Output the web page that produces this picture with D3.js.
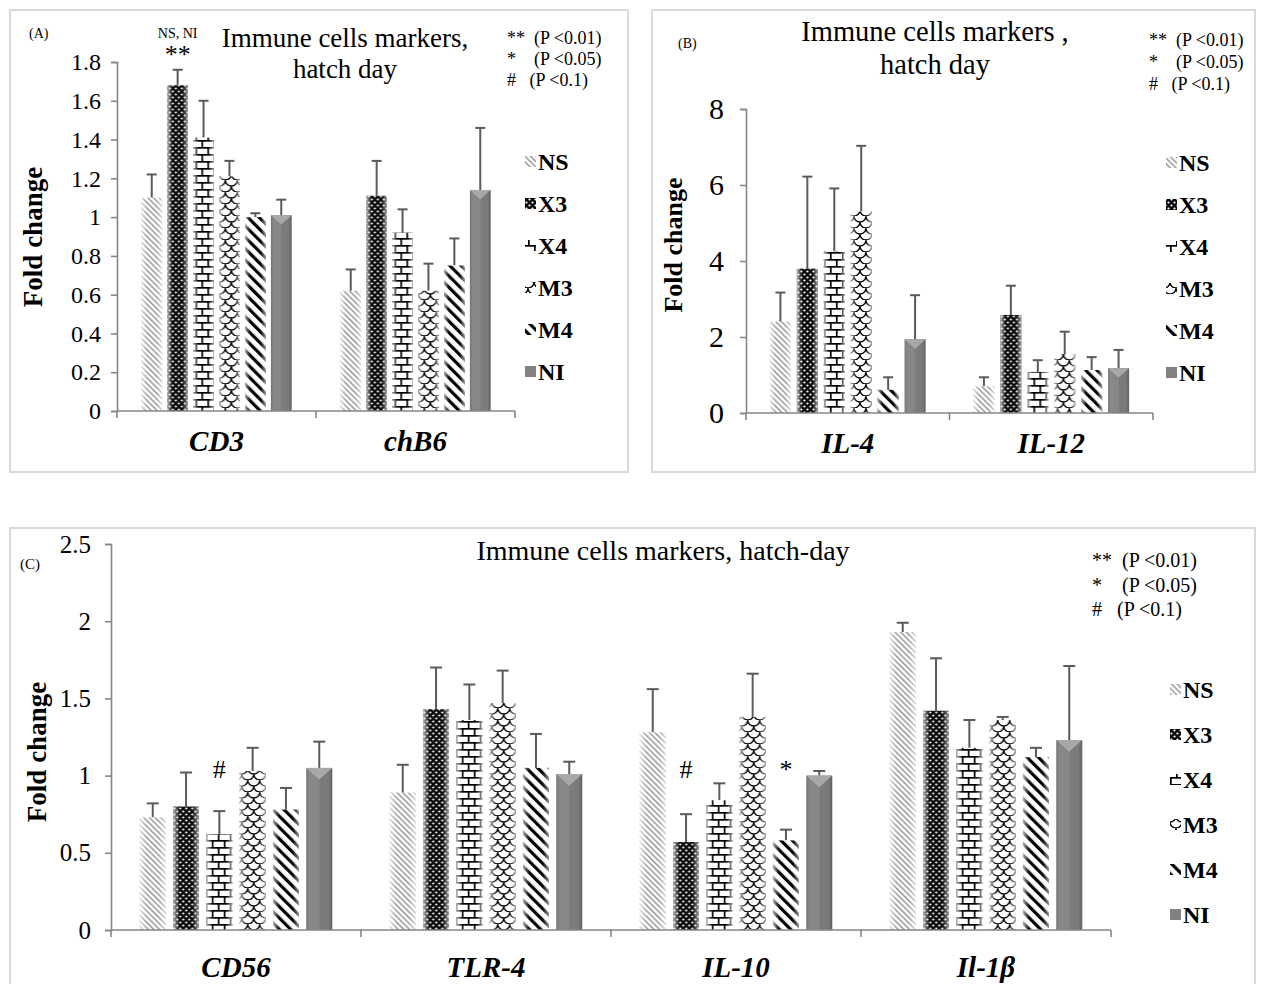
<!DOCTYPE html>
<html><head><meta charset="utf-8">
<script src="https://cdn.jsdelivr.net/npm/d3@7"></script>
<style>
html,body{margin:0;padding:0;background:#fff;}
svg text{font-family:"Liberation Serif","Times New Roman",serif;fill:#000;}
</style></head>
<body>
<svg id="chart" width="1264" height="984"></svg>
<script>
// ---------------- DATA ----------------
const series = ["NS", "X3", "X4", "M3", "M4", "NI"];

const categoriesA = ["CD3", "chB6"];
const meansA = [
  [1.10, 1.68, 1.41, 1.21, 1.00, 1.01],
  [0.62, 1.11, 0.92, 0.62, 0.75, 1.14]
];
const errorsA = [
  [0.12, 0.08, 0.19, 0.08, 0.02, 0.08],
  [0.11, 0.18, 0.12, 0.14, 0.14, 0.32]
];
const ticksA = [0, 0.2, 0.4, 0.6, 0.8, 1, 1.2, 1.4, 1.6, 1.8];

const categoriesB = ["IL-4", "IL-12"];
const meansB = [
  [2.40, 3.80, 4.25, 5.30, 0.61, 1.94],
  [0.70, 2.58, 1.08, 1.55, 1.13, 1.18]
];
const errorsB = [
  [0.77, 2.42, 1.66, 1.73, 0.33, 1.16],
  [0.24, 0.77, 0.31, 0.59, 0.34, 0.48]
];
const ticksB = [0, 2, 4, 6, 8];

const categoriesC = ["CD56", "TLR-4", "IL-10", "Il-1β"];
const meansC = [
  [0.73, 0.80, 0.62, 1.03, 0.78, 1.05],
  [0.89, 1.43, 1.36, 1.47, 1.05, 1.01],
  [1.28, 0.57, 0.84, 1.38, 0.58, 1.00],
  [1.93, 1.42, 1.18, 1.36, 1.12, 1.23]
];
const errorsC = [
  [0.09, 0.22, 0.15, 0.15, 0.14, 0.17],
  [0.18, 0.27, 0.23, 0.21, 0.22, 0.08],
  [0.28, 0.18, 0.11, 0.28, 0.07, 0.03],
  [0.06, 0.34, 0.18, 0.02, 0.06, 0.48]
];
const ticksC = [0, 0.5, 1, 1.5, 2, 2.5];

const sigLegend = ["**  (P <0.01)", "*    (P <0.05)", "#   (P <0.1)"];
// significance marks: [category index, series index, mark]
const marksA = [[0, 1, "**"]];
const marksC = [[0, 2, "#"], [2, 1, "#"], [2, 4, "*"]];

// ---------------- DRAW ----------------
const svg = d3.select("#chart");
const defs = svg.append("defs");

function pat(id, w, h, bg, draw, transform) {
  const p = defs.append("pattern").attr("id", id).attr("patternUnits", "userSpaceOnUse")
    .attr("width", w).attr("height", h);
  if (transform) p.attr("patternTransform", transform);
  p.append("rect").attr("width", w).attr("height", h).attr("fill", bg);
  draw(p);
}
pat("p-NS", 4, 4, "#fff", p => p.append("rect").attr("x", 0).attr("y", 0).attr("width", 1.4).attr("height", 4).attr("fill", "#8f8f8f"), "rotate(-45)");
pat("p-X3", 6, 6, "#0a0a0a", p => {
  p.append("circle").attr("cx", 1.5).attr("cy", 1.5).attr("r", 1.1).attr("fill", "#fff");
  p.append("circle").attr("cx", 4.5).attr("cy", 4.5).attr("r", 1.1).attr("fill", "#fff");
});
pat("p-X4", 12, 14, "#fff", p => {
  p.append("rect").attr("x", 0).attr("y", 0).attr("width", 12).attr("height", 1.7).attr("fill", "#000");
  p.append("rect").attr("x", 0).attr("y", 7).attr("width", 12).attr("height", 1.7).attr("fill", "#000");
  p.append("rect").attr("x", 0).attr("y", 0).attr("width", 1.7).attr("height", 7).attr("fill", "#000");
  p.append("rect").attr("x", 6).attr("y", 7).attr("width", 1.7).attr("height", 7).attr("fill", "#000");
});
pat("p-M3", 12, 12, "#fff", p => {
  p.append("path").attr("d", "M0,0 A6,6 0 0 0 12,0 M-6,6 A6,6 0 0 0 6,6 M6,6 A6,6 0 0 0 18,6 M0,12 A6,6 0 0 0 12,12")
    .attr("fill", "none").attr("stroke", "#000").attr("stroke-width", 1.3);
});
pat("p-M4", 8, 8, "#fff", p => p.append("rect").attr("x", 0).attr("y", 0).attr("width", 3.2).attr("height", 8).attr("fill", "#000"), "rotate(-45)");
pat("p-NI", 4, 4, "#818181", p => {});

const shade = defs.append("linearGradient").attr("id", "shade").attr("x1", 0).attr("x2", 1).attr("y1", 0).attr("y2", 0);
[[0, "#fff", 0.7], [0.25, "#fff", 0], [0.75, "#fff", 0], [1, "#fff", 0.6]].forEach(s =>
  shade.append("stop").attr("offset", s[0]).attr("stop-color", s[1]).attr("stop-opacity", s[2]));
const shadeNI = defs.append("linearGradient").attr("id", "shadeNI").attr("x1", 0).attr("x2", 1).attr("y1", 0).attr("y2", 0);
[[0, "#000", 0.12], [0.15, "#fff", 0.06], [0.5, "#fff", 0.04], [0.52, "#000", 0.04], [0.85, "#000", 0.06], [1, "#000", 0.25]].forEach(s =>
  shadeNI.append("stop").attr("offset", s[0]).attr("stop-color", s[1]).attr("stop-opacity", s[2]));

const axisColor = "#868686";
const errColor = "#5a5a5a";

function drawPanel(cfg) {
  const g = svg.append("g");
  g.append("rect").attr("x", cfg.frame[0]).attr("y", cfg.frame[1])
    .attr("width", cfg.frame[2] - cfg.frame[0]).attr("height", cfg.frame[3] - cfg.frame[1])
    .attr("fill", "none").attr("stroke", "#d9d9d9").attr("stroke-width", 2);

  const y = d3.scaleLinear().domain(cfg.domain).range([cfg.y0, cfg.y1]);
  const x0 = d3.scaleBand().domain(cfg.cats).range([cfg.x0, cfg.x1]).paddingInner(cfg.pad).paddingOuter(cfg.pad / 2);
  const x1 = d3.scaleBand().domain(series).range([0, x0.bandwidth()]).paddingInner(cfg.inner);

  const yAxis = d3.axisLeft(y).tickValues(cfg.ticks).tickSize(6).tickPadding(cfg.tickPad).tickFormat(d3.format("~g"));
  const ya = g.append("g").attr("transform", `translate(${cfg.x0},0)`).call(yAxis);
  ya.select(".domain").attr("stroke", axisColor).attr("stroke-width", 1.6);
  ya.selectAll(".tick line").attr("stroke", axisColor).attr("stroke-width", 1.6);
  ya.selectAll(".tick text").style("font-family", '"Liberation Serif",serif').style("font-size", cfg.tickFont + "px").attr("fill", "#000");

  cfg.cats.forEach((c, ci) => {
    const grp = g.append("g").attr("transform", `translate(${x0(c)},0)`);
    series.forEach((s, si) => {
      const v = cfg.means[ci][si], e = cfg.errors[ci][si];
      const bx = x1(s), bw = x1.bandwidth();
      grp.append("line").attr("x1", bx + bw / 2).attr("x2", bx + bw / 2)
        .attr("y1", y(v)).attr("y2", y(v + e)).attr("stroke", errColor).attr("stroke-width", 2);
      grp.append("line").attr("x1", bx + bw / 2 - cfg.cap).attr("x2", bx + bw / 2 + cfg.cap)
        .attr("y1", y(v + e)).attr("y2", y(v + e)).attr("stroke", errColor).attr("stroke-width", 2);
      grp.append("rect").attr("x", bx).attr("y", y(v)).attr("width", bw).attr("height", y(0) - y(v))
        .attr("fill", `url(#p-${s})`);
      if (s === "NI") {
        grp.append("rect").attr("x", bx).attr("y", y(v)).attr("width", bw).attr("height", y(0) - y(v))
          .attr("fill", "url(#shadeNI)");
        grp.append("path").attr("d", `M${bx},${y(v)} L${bx + bw},${y(v)} L${bx + bw / 2},${y(v) + bw * 0.45} Z`)
          .attr("fill", "#a8a8a8");
      } else {
        grp.append("rect").attr("x", bx).attr("y", y(v)).attr("width", bw).attr("height", y(0) - y(v))
          .attr("fill", "url(#shade)");
      }
    });
  });

  g.append("line").attr("x1", cfg.x0).attr("x2", cfg.x1).attr("y1", y(0)).attr("y2", y(0))
    .attr("stroke", axisColor).attr("stroke-width", 1.6);
  const step = x0.step();
  d3.range(cfg.cats.length + 1).forEach(i => {
    const tx = cfg.x0 + i * step;
    g.append("line").attr("x1", tx).attr("x2", tx).attr("y1", y(0)).attr("y2", y(0) + 7)
      .attr("stroke", axisColor).attr("stroke-width", 1.6);
  });
  cfg.cats.forEach(c => {
    g.append("text").attr("x", x0(c) + x0.bandwidth() / 2).attr("y", cfg.catY)
      .attr("text-anchor", "middle").style("font-size", cfg.catFont + "px")
      .style("font-weight", "bold").style("font-style", "italic").text(c);
  });

  g.append("text").attr("transform", `translate(${cfg.ytitle[0]},${cfg.ytitle[1]}) rotate(-90)`)
    .attr("text-anchor", "middle").style("font-size", cfg.ytitleFont + "px").style("font-weight", "bold").text("Fold change");

  cfg.title.forEach((t, i) => {
    g.append("text").attr("x", cfg.titlePos[0]).attr("y", cfg.titlePos[1] + i * cfg.titleLH)
      .attr("text-anchor", "middle").style("font-size", cfg.titleFont + "px").text(t);
  });

  g.append("text").attr("x", cfg.label[0]).attr("y", cfg.label[1]).style("font-size", cfg.labelFont + "px").text(cfg.labelText);

  sigLegend.forEach((t, i) => {
    g.append("text").attr("x", cfg.sig[0]).attr("y", cfg.sig[1] + i * cfg.sigLH)
      .style("font-size", cfg.sigFont + "px").style("white-space", "pre").text(t);
  });

  series.forEach((s, i) => {
    const ly = cfg.leg[1] + i * cfg.legLH;
    g.append("rect").attr("x", cfg.leg[0]).attr("y", ly - 6).attr("width", 11).attr("height", 11)
      .attr("fill", `url(#p-${s})`);
    g.append("text").attr("x", cfg.leg[0] + 13).attr("y", ly + 8)
      .style("font-size", cfg.legFont + "px").style("font-weight", "bold").text(s);
  });

  (cfg.marks || []).forEach(m => {
    const c = cfg.cats[m[0]], s = series[m[1]];
    const cx = x0(c) + x1(s) + x1.bandwidth() / 2;
    g.append("text").attr("x", cx).attr("y", y(cfg.markLevel) + cfg.markDy)
      .attr("text-anchor", "middle").style("font-size", cfg.markFont + "px").text(m[2]);
  });
  return {g, x0, x1, y};
}

const A = drawPanel({
  frame: [10, 10, 628, 472], cats: categoriesA, means: meansA, errors: errorsA,
  domain: [0, 1.8], y0: 411, y1: 62, x0: 117, x1: 515, pad: 0.245, inner: 0.2, cap: 5,
  ticks: ticksA, tickFont: 24, tickPad: 10, catY: 451, catFont: 29,
  ytitle: [42, 237], ytitleFont: 27,
  title: ["Immune cells markers,", "hatch day"], titlePos: [345, 47], titleLH: 31, titleFont: 27,
  label: [29, 38], labelFont: 14, labelText: "(A)",
  sig: [507, 44], sigLH: 21, sigFont: 18,
  leg: [525, 162], legLH: 42, legFont: 24,
  marks: marksA, markLevel: 1.8, markDy: 1, markFont: 26
});
A.g.append("text").attr("x", A.x0(categoriesA[0]) + A.x1(series[1]) + A.x1.bandwidth() / 2)
  .attr("y", 38).attr("text-anchor", "middle").style("font-size", "14px").text("NS, NI");

drawPanel({
  frame: [652, 10, 1255, 472], cats: categoriesB, means: meansB, errors: errorsB,
  domain: [0, 8], y0: 413, y1: 109, x0: 746, x1: 1153, pad: 0.235, inner: 0.22, cap: 5,
  ticks: ticksB, tickFont: 30, tickPad: 16, catY: 453, catFont: 29,
  ytitle: [682, 245], ytitleFont: 26,
  title: ["Immune cells markers ,", "hatch day"], titlePos: [935, 41], titleLH: 33, titleFont: 28.5,
  label: [678, 48], labelFont: 14, labelText: "(B)",
  sig: [1149, 46], sigLH: 22, sigFont: 18,
  leg: [1166, 163], legLH: 42, legFont: 24,
  marks: [], markLevel: 0, markDy: 0, markFont: 20
});

drawPanel({
  frame: [10, 528, 1255, 995], cats: categoriesC, means: meansC, errors: errorsC,
  domain: [0, 2.5], y0: 930, y1: 544, x0: 111, x1: 1111, pad: 0.23, inner: 0.22, cap: 6,
  ticks: ticksC, tickFont: 25, tickPad: 14, catY: 977, catFont: 29,
  ytitle: [46, 752], ytitleFont: 27,
  title: ["Immune cells markers, hatch-day"], titlePos: [663, 560], titleLH: 0, titleFont: 28,
  label: [20, 569], labelFont: 15, labelText: "(C)",
  sig: [1092, 567], sigLH: 24.5, sigFont: 20,
  leg: [1170, 690], legLH: 45, legFont: 24,
  marks: marksC, markLevel: 1.04, markDy: 9, markFont: 26
});
</script>
</body></html>
